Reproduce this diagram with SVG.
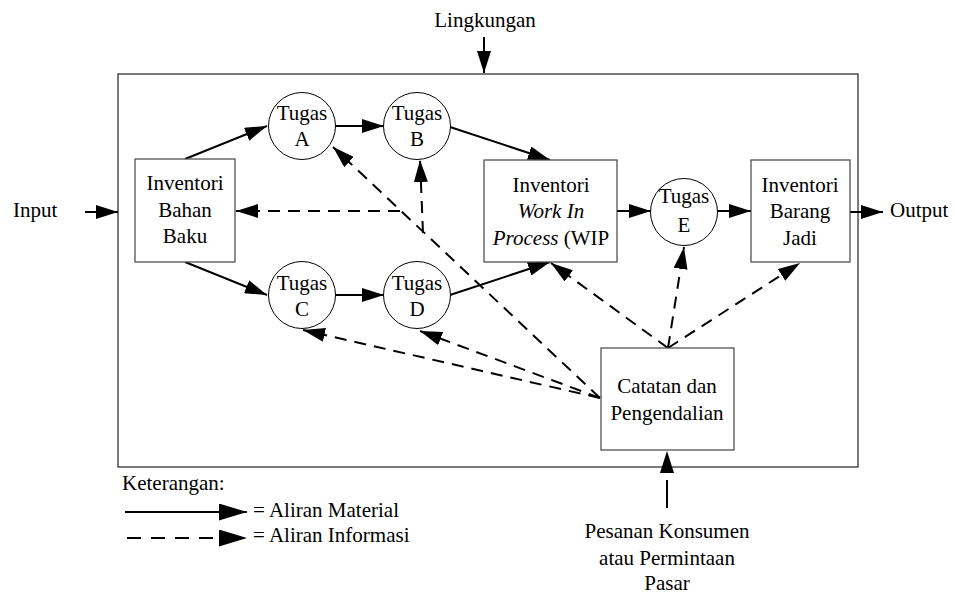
<svg xmlns="http://www.w3.org/2000/svg" width="955" height="597" viewBox="0 0 955 597">
<style>
text{font-family:'Liberation Serif','DejaVu Serif',serif;font-size:21px;fill:#000}
.c{text-anchor:middle}
.box{fill:#fff;stroke:#444;stroke-width:1.2}
.circ{fill:#fff;stroke:#000;stroke-width:1}
.mat{stroke:#000;stroke-width:2;fill:none;marker-end:url(#ah)}
.inf{stroke:#000;stroke-width:2;fill:none;stroke-dasharray:12 8;marker-end:url(#ah)}
</style>
<defs>
<marker id="ah" viewBox="0 0 22 14" refX="22" refY="7" markerWidth="22" markerHeight="14" markerUnits="userSpaceOnUse" orient="auto"><path d="M0,0 L22,7 L0,14 z" fill="#000"/></marker>
<marker id="ahL" viewBox="0 0 28 17" refX="28" refY="8.5" markerWidth="28" markerHeight="17" markerUnits="userSpaceOnUse" orient="auto"><path d="M0,0 L28,8.5 L0,17 z" fill="#000"/></marker>
</defs>
<rect id="system" x="118" y="74" width="740" height="393" fill="none" stroke="#222" stroke-width="1.2"/>
<g id="connectors">
<line class="mat" x1="484" y1="37" x2="484" y2="73"/>
<line class="mat" x1="85" y1="212" x2="118" y2="212"/>
<line class="mat" x1="850" y1="212" x2="883" y2="212"/>
<line class="mat" x1="185" y1="159" x2="267" y2="126"/>
<line class="mat" x1="185" y1="262" x2="267" y2="295"/>
<line class="mat" x1="335" y1="126" x2="384" y2="126"/>
<line class="mat" x1="335" y1="295" x2="384" y2="295"/>
<line class="mat" x1="450" y1="127" x2="550" y2="160"/>
<line class="mat" x1="450" y1="295" x2="550" y2="262"/>
<line class="mat" x1="617" y1="211" x2="651" y2="211"/>
<line class="mat" x1="717" y1="211" x2="751" y2="211"/>
<line class="inf" x1="600" y1="398" x2="333" y2="147"/>
<line class="inf" x1="423" y1="233" x2="420" y2="160"/>
<line class="inf" x1="400" y1="211" x2="236" y2="211"/>
<line class="inf" x1="600" y1="398" x2="420" y2="331"/>
<line class="inf" x1="600" y1="398" x2="303" y2="330"/>
<line class="inf" x1="668" y1="348" x2="551" y2="263"/>
<line class="inf" x1="668" y1="348" x2="684" y2="247"/>
<line class="inf" x1="668" y1="348" x2="800" y2="263"/>
<line class="mat" x1="667" y1="508" x2="667" y2="451" style="stroke-dasharray:28 200"/>
</g>
<g id="bahan-baku"><rect class="box" x="135" y="159" width="100" height="103"/>
<text class="c" x="185" y="190">Inventori</text><text class="c" x="185" y="217">Bahan</text><text class="c" x="185" y="243">Baku</text></g>
<g id="tugas-a"><circle class="circ" cx="302" cy="126" r="33.5"/><text class="c" x="302" y="120">Tugas</text><text class="c" x="302" y="146">A</text></g>
<g id="tugas-b"><circle class="circ" cx="417" cy="126" r="33.5"/><text class="c" x="417" y="120">Tugas</text><text class="c" x="417" y="146">B</text></g>
<g id="tugas-c"><circle class="circ" cx="302" cy="295" r="33.5"/><text class="c" x="302" y="290">Tugas</text><text class="c" x="302" y="316">C</text></g>
<g id="tugas-d"><circle class="circ" cx="417" cy="295" r="33.5"/><text class="c" x="417" y="290">Tugas</text><text class="c" x="417" y="316">D</text></g>
<g id="wip"><rect class="box" x="484" y="160" width="133" height="102"/>
<text class="c" x="551" y="192">Inventori</text><text class="c" x="551" y="218" font-style="italic">Work In</text><text class="c" x="551" y="245"><tspan font-style="italic">Process</tspan> (WIP</text></g>
<g id="tugas-e"><circle class="circ" cx="684" cy="212" r="33.5"/><text class="c" x="684" y="203">Tugas</text><text class="c" x="684" y="232">E</text></g>
<g id="barang-jadi"><rect class="box" x="751" y="160" width="99" height="102"/>
<text class="c" x="800" y="192">Inventori</text><text class="c" x="800" y="218">Barang</text><text class="c" x="800" y="245">Jadi</text></g>
<g id="catatan"><rect class="box" x="601" y="348" width="133" height="102"/>
<text class="c" x="667" y="393">Catatan dan</text><text class="c" x="667" y="420">Pengendalian</text></g>
<g id="lingkungan"><text class="c" x="485" y="27">Lingkungan</text></g>
<g id="input"><text x="13" y="217">Input</text></g>
<g id="output"><text x="890" y="217">Output</text></g>
<g id="pesanan"><text class="c" x="667" y="538">Pesanan Konsumen</text><text class="c" x="667" y="565">atau Permintaan</text><text class="c" x="667" y="590">Pasar</text></g>
<g id="legend">
<text x="122" y="490">Keterangan:</text>
<line x1="125" y1="512" x2="247" y2="512" stroke="#000" stroke-width="2" marker-end="url(#ahL)"/>
<line x1="127" y1="538" x2="247" y2="538" stroke="#000" stroke-width="2" stroke-dasharray="14 10" marker-end="url(#ahL)"/>
<text x="253" y="517">= Aliran Material</text>
<text x="253" y="542">= Aliran Informasi</text>
</g>
</svg>
